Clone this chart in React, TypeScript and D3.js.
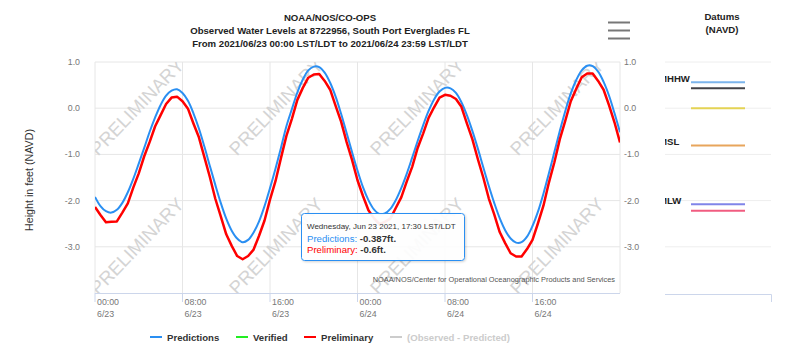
import React from 'react';
import * as d3 from 'd3';

// ---------- data ----------
const START = new Date(2021, 5, 23, 0, 0);
const STEP_MINUTES = 30;

const predictions = [
  -1.92, -2.12, -2.23, -2.26, -2.20, -2.05, -1.82, -1.53, -1.20, -0.86, -0.51, -0.20,
  0.07, 0.27, 0.38, 0.41, 0.33, 0.16, -0.11, -0.44, -0.83, -1.25, -1.66, -2.05,
  -2.39, -2.65, -2.82, -2.90, -2.85, -2.69, -2.45, -2.12, -1.73, -1.31, -0.86, -0.39,
  -0.02, 0.34, 0.62, 0.82, 0.90, 0.89, 0.77, 0.55, 0.25, -0.12, -0.53, -0.95,
  -1.35, -1.71, -1.99, -2.19, -2.29, -2.28, -2.18, -1.99, -1.73, -1.42, -1.07, -0.71,
  -0.37, -0.06, 0.19, 0.36, 0.44, 0.43, 0.33, 0.13, -0.15, -0.49, -0.87, -1.28,
  -1.68, -2.05, -2.38, -2.64, -2.82, -2.91, -2.90, -2.78, -2.55, -2.24, -1.85, -1.41,
  -0.95, -0.49, -0.06, 0.32, 0.61, 0.82, 0.92, 0.91, 0.79, 0.57, 0.27, -0.11,
  -0.52,
];

const preliminary = [
  -2.14, -2.31, -2.47, -2.46, -2.45, -2.26, -2.06, -1.72, -1.41, -1.04, -0.73, -0.39,
  -0.15, 0.09, 0.23, 0.25, 0.15, -0.01, -0.33, -0.63, -1.06, -1.49, -1.96, -2.34,
  -2.73, -2.98, -3.20, -3.27, -3.20, -3.06, -2.76, -2.43, -1.98, -1.58, -1.08, -0.60,
  -0.23, 0.18, 0.44, 0.66, 0.73, 0.74, 0.59, 0.40, 0.05, -0.29, -0.73, -1.12,
  -1.56, -1.90, -2.21, -2.38, -2.51, -2.46, -2.39, -2.16, -1.93, -1.59, -1.27, -0.86,
  -0.55, -0.21, 0.02, 0.23, 0.29, 0.27, 0.20, 0.03, -0.33, -0.67, -1.10, -1.50,
  -1.95, -2.30, -2.68, -2.92, -3.14, -3.21, -3.21, -3.05, -2.85, -2.49, -2.11, -1.61,
  -1.17, -0.67, -0.27, 0.15, 0.42, 0.67, 0.75, 0.75, 0.59, 0.40, 0.06, -0.31,
  -0.74,
];

const yTicks = [1, 0, -1, -2, -3];
const gridHours = [0, 8, 16, 24, 32, 40, 48];
const xTickHours = [0, 8, 16, 24, 32, 40];
const xTickTimeLabels = ['00:00', '08:00', '16:00', '00:00', '08:00', '16:00'];
const xTickDateLabels = ['6/23', '6/23', '6/23', '6/24', '6/24', '6/24'];

const datumNames = ['MHHW', 'MHW', 'NAVD88', 'MSL', 'MLW', 'MLLW'];
const datumValues = [0.56, 0.43, 0.0, -0.81, -2.08, -2.22];
const datumColors = ['#7cb5ec', '#434348', '#e4d354', '#e8a55c', '#8085e9', '#f15c80'];
const datumLabelShown = [true, false, false, true, true, false];

const legendNames = ['Predictions', 'Verified', 'Preliminary', '(Observed - Predicted)'];
const legendColors = ['#2a8ff2', '#22ee22', '#ff0000', '#cccccc'];
const legendTextColors = ['#333333', '#333333', '#333333', '#cccccc'];

const titleLines = [
  'NOAA/NOS/CO-OPS',
  'Observed Water Levels at 8722956, South Port Everglades FL',
  'From 2021/06/23 00:00 LST/LDT to 2021/06/24 23:59 LST/LDT',
];

const tooltipHeader = 'Wednesday, Jun 23 2021, 17:30 LST/LDT';
const tooltipPred = '-0.387ft.';
const tooltipPrelim = '-0.6ft.';

const watermarkX = [138, 277, 418, 558];
const watermarkY = [108, 247];

// ---------- layout ----------
const W = 800;
const H = 357;
const PLOT = { left: 95, right: 620, top: 62, bottom: 293 };
const FONT = '"Liberation Sans", Arial, Helvetica, sans-serif';

const hourMs = 3600 * 1000;
const dateAt = (h: number) => new Date(START.getTime() + h * hourMs);

export default function App() {
  const x = d3.scaleTime().domain([dateAt(0), dateAt(48)]).range([PLOT.left, PLOT.right]);
  const y = d3.scaleLinear().domain([-4, 1]).range([PLOT.bottom, PLOT.top]);

  const times = predictions.map((_, i) => new Date(START.getTime() + i * STEP_MINUTES * 60000));

  const predLine = d3
    .line<number>()
    .x((_, i) => x(times[i]))
    .y((d) => y(d))
    .curve(d3.curveCatmullRom.alpha(0.5));
  const prelimLine = d3
    .line<number>()
    .x((_, i) => x(times[i]))
    .y((d) => y(d))
    .curve(d3.curveLinear);

  const fmt = (v: number) => d3.format('.1f')(v).replace('\u2212', '-');

  // datum panel
  const DP = { left: 665, right: 771, lineX0: 691, lineX1: 745, labelX: 659 };

  // legend layout
  const legendStart = [150, 236, 304, 390];
  const legendY = 337;

  return (
    <svg
      width={W}
      height={H}
      style={{ position: 'absolute', left: 0, top: 0, background: '#fff' }}
      fontFamily={FONT}
    >
      <defs>
        <clipPath id="plotClip">
          <rect x={PLOT.left} y={PLOT.top} width={PLOT.right - PLOT.left} height={PLOT.bottom - PLOT.top} />
        </clipPath>
        <clipPath id="datumClip">
          <rect x={DP.left} y={0} width={DP.right - DP.left} height={PLOT.bottom} />
        </clipPath>
        <filter id="shadow" x="-10%" y="-10%" width="130%" height="140%">
          <feDropShadow dx="1" dy="1" stdDeviation="1.2" floodColor="#000" floodOpacity="0.18" />
        </filter>
      </defs>

      {/* title */}
      {titleLines.map((t, i) => (
        <text key={i} x={330} y={21 + i * 13} textAnchor="middle" fontSize={9.6} fontWeight="bold" fill="#222">
          {t}
        </text>
      ))}

      {/* hamburger */}
      {[22.5, 30.5, 38.5].map((yy, i) => (
        <line key={i} x1={608} x2={630} y1={yy} y2={yy} stroke="#777" strokeWidth={2} />
      ))}

      {/* horizontal grid */}
      {yTicks.map((t) => (
        <line key={t} x1={PLOT.left} x2={PLOT.right} y1={y(t)} y2={y(t)} stroke="#e6e6e6" strokeWidth={1} />
      ))}
      {/* vertical grid */}
      {gridHours.map((h) => (
        <line key={h} x1={x(dateAt(h))} x2={x(dateAt(h))} y1={PLOT.top} y2={PLOT.bottom} stroke="#e6e6e6" strokeWidth={1} />
      ))}

      {/* watermarks */}
      <g clipPath="url(#plotClip)">
        {watermarkY.map((wy) =>
          watermarkX.map((wx) => (
            <text
              key={`${wx}-${wy}`}
              x={wx}
              y={wy}
              transform={`rotate(-46 ${wx} ${wy})`}
              textAnchor="middle"
              dominantBaseline="middle"
              fontSize={18.5}
              fill="#d4d4d4"
            >
              PRELIMINARY
            </text>
          ))
        )}
      </g>

      {/* x axis line and ticks */}
      <line x1={PLOT.left} x2={PLOT.right} y1={PLOT.bottom + 0.5} y2={PLOT.bottom + 0.5} stroke="#ccd6eb" />
      {xTickHours.map((h) => (
        <line key={h} x1={x(dateAt(h))} x2={x(dateAt(h))} y1={PLOT.bottom} y2={PLOT.bottom + 9} stroke="#ccd6eb" />
      ))}
      {xTickHours.map((h, i) => (
        <g key={h}>
          <text x={x(dateAt(h)) + 2} y={305} fontSize={8.8} fill="#777">
            {xTickTimeLabels[i]}
          </text>
          <text x={x(dateAt(h)) + 2} y={317} fontSize={8.8} fill="#777">
            {xTickDateLabels[i]}
          </text>
        </g>
      ))}

      {/* y labels */}
      {yTicks.map((t) => (
        <g key={t}>
          <text x={80} y={y(t) + 3} textAnchor="end" fontSize={8.8} fill="#777">
            {fmt(t)}
          </text>
          <text x={624} y={y(t) + 3} textAnchor="start" fontSize={8.8} fill="#777">
            {fmt(t)}
          </text>
        </g>
      ))}
      <text
        x={30}
        y={180}
        transform="rotate(-90 30 180)"
        textAnchor="middle"
        dominantBaseline="middle"
        fontSize={10.7}
        fill="#333"
      >
        Height in feet (NAVD)
      </text>

      {/* series */}
      <g clipPath="url(#plotClip)">
        <path d={predLine(predictions) || ''} fill="none" stroke={legendColors[0]} strokeWidth={2} />
        <path d={prelimLine(preliminary) || ''} fill="none" stroke={legendColors[2]} strokeWidth={2.5} strokeLinejoin="round" />
      </g>

      {/* credits */}
      <text x={615} y={282} textAnchor="end" fontSize={7.4} fill="#555">
        NOAA/NOS/Center for Operational Oceanographic Products and Services
      </text>

      {/* tooltip */}
      <g>
        <rect x={301.5} y={213.5} width={163} height={47} rx={3} fill="rgba(255,255,255,0.92)" stroke={legendColors[0]} filter="url(#shadow)" />
        <text x={307} y={229} fontSize={8} fill="#333">
          {tooltipHeader}
        </text>
        <text x={307} y={241.5} fontSize={9.6}>
          <tspan fill={legendColors[0]}>Predictions: </tspan>
          <tspan fill="#333" fontWeight="bold">{tooltipPred}</tspan>
        </text>
        <text x={307} y={253} fontSize={9.6}>
          <tspan fill={legendColors[2]}>Preliminary: </tspan>
          <tspan fill="#333" fontWeight="bold">{tooltipPrelim}</tspan>
        </text>
      </g>

      {/* legend */}
      {legendNames.map((n, i) => (
        <g key={n}>
          <line x1={legendStart[i]} x2={legendStart[i] + 12} y1={legendY} y2={legendY} stroke={legendColors[i]} strokeWidth={2} />
          <text x={legendStart[i] + 17} y={legendY + 3.5} fontSize={9.6} fontWeight="bold" fill={legendTextColors[i]}>
            {n}
          </text>
        </g>
      ))}

      {/* datums panel */}
      <text x={722} y={20} textAnchor="middle" fontSize={9.6} fontWeight="bold" fill="#222">
        Datums
      </text>
      <text x={722} y={33} textAnchor="middle" fontSize={9.6} fontWeight="bold" fill="#222">
        (NAVD)
      </text>
      {yTicks.map((t) => (
        <line key={t} x1={DP.left} x2={DP.right} y1={y(t)} y2={y(t)} stroke="#eeeeee" />
      ))}
      <line x1={DP.left} x2={DP.right + 0.5} y1={PLOT.bottom + 1.5} y2={PLOT.bottom + 1.5} stroke="#ccd6eb" />
      <line x1={DP.right + 0.5} x2={DP.right + 0.5} y1={PLOT.bottom + 1.5} y2={PLOT.bottom + 9} stroke="#ccd6eb" />
      {datumNames.map((n, i) => (
        <line key={n} x1={DP.lineX0} x2={DP.lineX1} y1={y(datumValues[i])} y2={y(datumValues[i])} stroke={datumColors[i]} strokeWidth={2} />
      ))}
      <g clipPath="url(#datumClip)">
        {datumNames.map((n, i) =>
          datumLabelShown[i] ? (
            <text key={n} x={DP.labelX} y={y(datumValues[i]) - 0.5} fontSize={9.6} fontWeight="bold" fill="#222">
              {n}
            </text>
          ) : null
        )}
      </g>
    </svg>
  );
}
